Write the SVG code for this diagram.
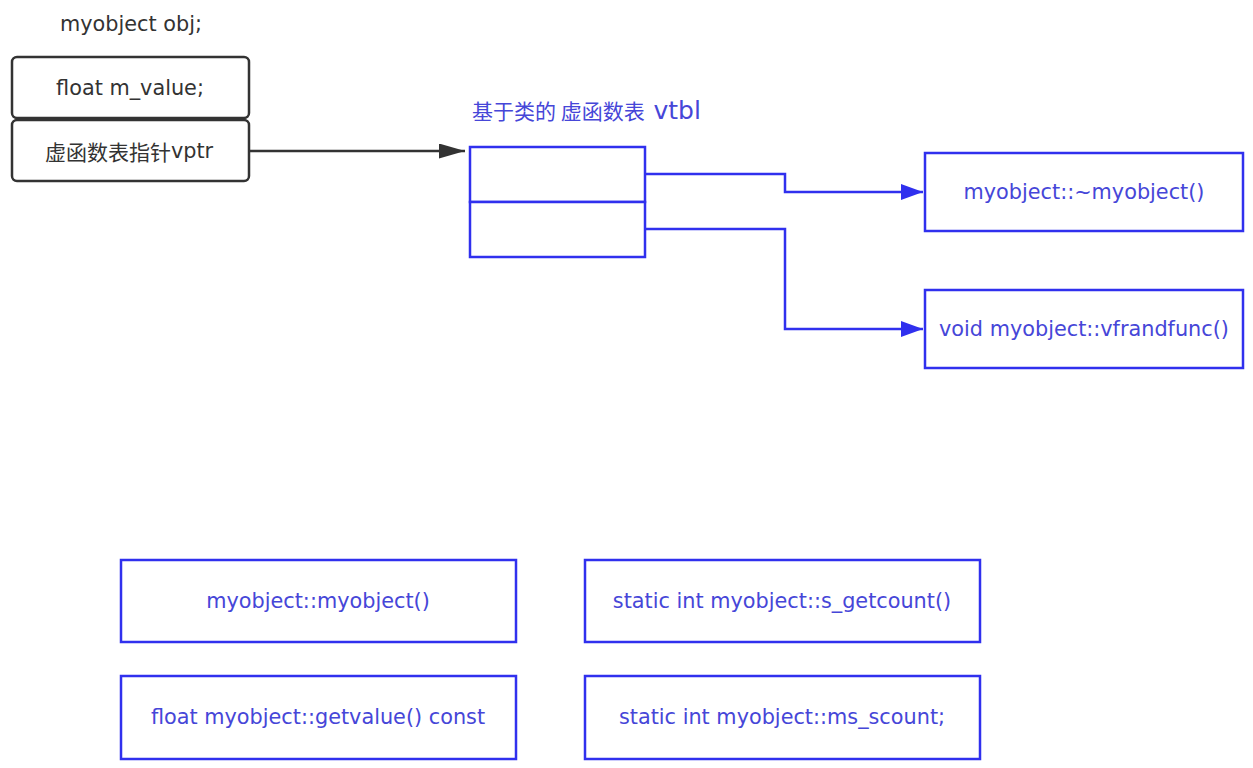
<svg xmlns="http://www.w3.org/2000/svg" width="1253" height="768" viewBox="0 0 1253 768">
<style>
text{font-family:"DejaVu Sans","Noto Sans CJK SC",sans-serif;font-size:20.8px;text-anchor:middle;dominant-baseline:central}
.dk{fill:#333}
.bl{fill:#4646d8}
.bb{fill:#fff;stroke:#3030ee;stroke-width:2.5}
.db{fill:#fff;stroke:#333;stroke-width:2.5}
.cb{fill:none;stroke:#3030ee;stroke-width:2.5}
.ck{fill:none;stroke:#333;stroke-width:2.5}
.cjk{font-family:"Noto Sans CJK SC",sans-serif;font-size:21px}
</style>
<defs>
<marker id="ab" viewBox="0 0 10 10" refX="10" refY="5" markerWidth="22" markerHeight="16" markerUnits="userSpaceOnUse" orient="auto" preserveAspectRatio="none"><path d="M0,0 L10,5 L0,10 z" fill="#3030ee"/></marker>
<marker id="ak2" viewBox="0 0 10 10" refX="10" refY="5" markerWidth="26" markerHeight="15" markerUnits="userSpaceOnUse" orient="auto" preserveAspectRatio="none"><path d="M0,0 L10,5 L0,10 z" fill="#333"/></marker>
</defs>
<rect width="1253" height="768" fill="#fff"/>
<text id="objlabel" class="dk" x="131" y="24">myobject obj;</text>
<g id="obj">
<g id="mvalue"><rect class="db" x="12" y="57" width="237" height="61" rx="5"/><text class="dk" x="130" y="88">float m_value;</text></g>
<g id="vptr"><rect class="db" x="12" y="120" width="237" height="61" rx="5"/><text class="dk" x="129" y="151"><tspan class="cjk">虚函数表指针</tspan>vptr</text></g>
</g>
<g id="vtbl">
<text class="bl" x="472" y="110" style="text-anchor:start"><tspan class="cjk" font-size="20">基于类的 虚函数表 </tspan><tspan font-size="25" dx="4">vtbl</tspan></text>
<rect class="bb" x="470" y="147" width="175" height="55"/>
<rect class="bb" x="470" y="202" width="175" height="55"/>
</g>
<g id="dtor"><rect class="bb" x="925" y="153" width="318" height="78"/><text class="bl" x="1084" y="192">myobject::~myobject()</text></g>
<g id="vfunc"><rect class="bb" x="925" y="290" width="318" height="78"/><text class="bl" x="1084" y="329">void myobject::vfrandfunc()</text></g>
<g id="ctor"><rect class="bb" x="121" y="560" width="395" height="82"/><text class="bl" x="318" y="601">myobject::myobject()</text></g>
<g id="getvalue"><rect class="bb" x="121" y="676" width="395" height="83"/><text class="bl" x="318" y="717">float myobject::getvalue() const</text></g>
<g id="sgetcount"><rect class="bb" x="585" y="560" width="395" height="82"/><text class="bl" x="782" y="601">static int myobject::s_getcount()</text></g>
<g id="mscount"><rect class="bb" x="585" y="676" width="395" height="83"/><text class="bl" x="782" y="717">static int myobject::ms_scount;</text></g>
<g id="connectors">
<path class="ck" d="M249,151 L465,151" marker-end="url(#ak2)"/>
<path class="cb" d="M645,174 L785,174 L785,192 L923,192" marker-end="url(#ab)"/>
<path class="cb" d="M645,229 L785,229 L785,329 L923,329" marker-end="url(#ab)"/>
</g>
</svg>
